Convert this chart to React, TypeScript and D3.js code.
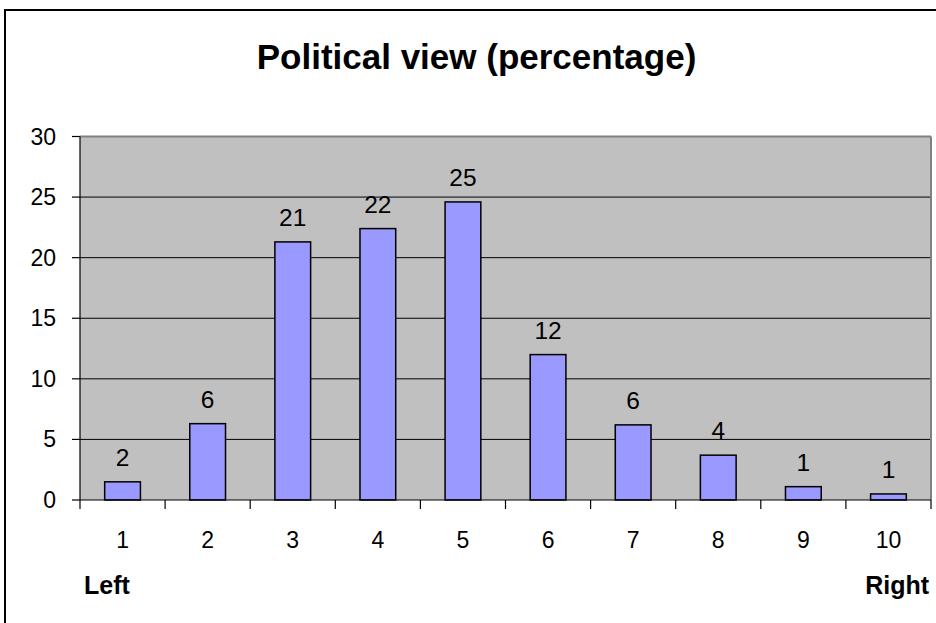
import React from "react";
import * as d3 from "d3";

const categories = ["1", "2", "3", "4", "5", "6", "7", "8", "9", "10"];
const values = [1.5, 6.3, 21.3, 22.4, 24.6, 12.0, 6.2, 3.7, 1.1, 0.5];
const dataLabels = ["2", "6", "21", "22", "25", "12", "6", "4", "1", "1"];
const yTicks = [0, 5, 10, 15, 20, 25, 30];
const title = "Political view (percentage)";
const leftLabel = "Left";
const rightLabel = "Right";

const W = 936;
const H = 623;
const plotL = 80;
const plotR = 931;
const plotT = 136.5;
const plotB = 500;
const FONT = "Arial, 'Liberation Sans', Helvetica, sans-serif";

export default function App() {
  const x = d3
    .scaleBand<string>()
    .domain(categories)
    .range([plotL, plotR])
    .paddingInner(0.58)
    .paddingOuter(0.29);
  const xc = d3.scaleBand<string>().domain(categories).range([plotL, plotR]).padding(0);
  const y = d3.scaleLinear().domain([0, 30]).range([plotB, plotT]);

  const catBounds = [plotL, ...categories.map((c) => (xc(c) as number) + xc.bandwidth())];

  return (
    <svg
      width={W}
      height={H}
      style={{ position: "absolute", left: 0, top: 0, display: "block", background: "#fff" }}
      fontFamily={FONT}
    >
      <rect x={0} y={0} width={W} height={H} fill="#fff" />
      {/* outer border */}
      <rect x={5} y={10} width={1200} height={1200} fill="none" stroke="#000" strokeWidth={2} />
      {/* title */}
      <text x={476.5} y={69} textAnchor="middle" fontSize={35} fontWeight="bold" fill="#000">
        {title}
      </text>
      {/* plot background */}
      <rect x={plotL} y={plotT} width={plotR - plotL} height={plotB - plotT} fill="#C0C0C0" />
      {/* gridlines */}
      {yTicks.filter((t) => t > 0 && t < 30).map((t) => (
        <line key={t} x1={plotL} x2={plotR} y1={y(t)} y2={y(t)} stroke="#000" strokeWidth={1} />
      ))}
      {/* plot border (top/right gray) */}
      <line x1={plotL} x2={plotR} y1={plotT} y2={plotT} stroke="#808080" strokeWidth={2} />
      <line x1={plotR} x2={plotR} y1={plotT} y2={plotB} stroke="#808080" strokeWidth={2} />
      {/* bars */}
      {values.map((v, i) => (
        <rect
          key={i}
          x={x(categories[i])}
          y={y(v)}
          width={x.bandwidth()}
          height={plotB - y(v)}
          fill="#9999FF"
          stroke="#000"
          strokeWidth={1.5}
        />
      ))}
      {/* data labels */}
      {values.map((v, i) => (
        <text
          key={i}
          x={(x(categories[i]) as number) + x.bandwidth() / 2}
          y={y(v) - 16}
          textAnchor="middle"
          fontSize={24.5}
          fill="#000"
        >
          {dataLabels[i]}
        </text>
      ))}
      {/* y axis */}
      <line x1={plotL} x2={plotL} y1={plotT} y2={plotB} stroke="#000" strokeWidth={1.2} />
      {yTicks.map((t) => (
        <g key={t}>
          <line x1={72} x2={plotL} y1={y(t)} y2={y(t)} stroke="#000" strokeWidth={1.2} />
          <text x={56} y={y(t) + 8} textAnchor="end" fontSize={23} fill="#000">
            {t}
          </text>
        </g>
      ))}
      {/* x axis */}
      <line x1={plotL} x2={plotR} y1={plotB} y2={plotB} stroke="#000" strokeWidth={1.2} />
      {catBounds.map((b, i) => (
        <line key={i} x1={b} x2={b} y1={plotB} y2={plotB + 9} stroke="#000" strokeWidth={1.2} />
      ))}
      {categories.map((c) => (
        <text
          key={c}
          x={(xc(c) as number) + xc.bandwidth() / 2}
          y={548}
          textAnchor="middle"
          fontSize={23}
          fill="#000"
        >
          {c}
        </text>
      ))}
      <text x={84} y={594} fontSize={25} fontWeight="bold" fill="#000">
        {leftLabel}
      </text>
      <text x={929} y={594} textAnchor="end" fontSize={25} fontWeight="bold" fill="#000">
        {rightLabel}
      </text>
    </svg>
  );
}
